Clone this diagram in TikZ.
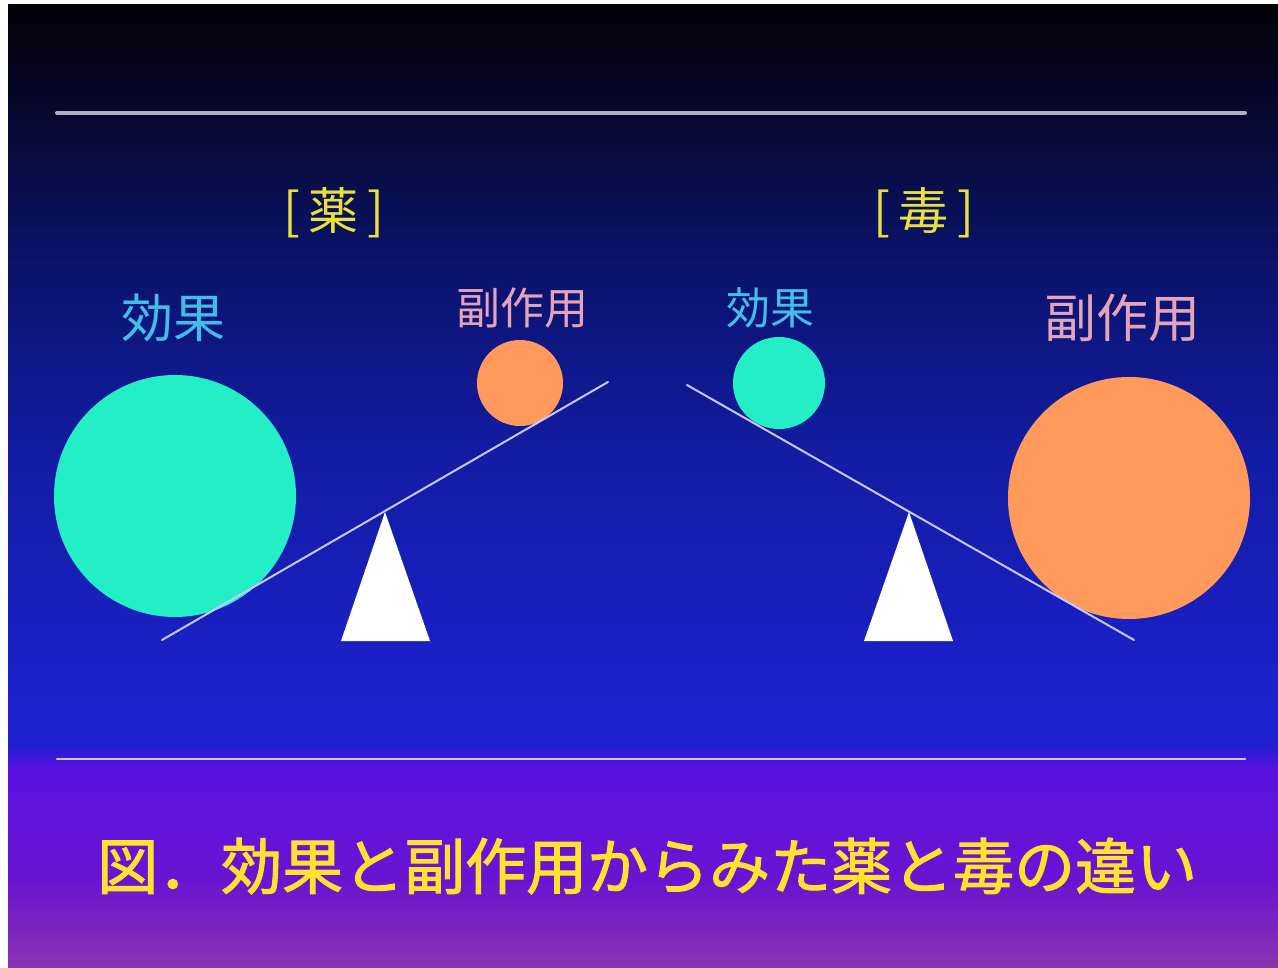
\documentclass[tikz,border=0pt]{standalone}
\usepackage{fontspec}
\newfontfamily\cjk{Noto Sans CJK JP}
\newfontfamily\cjkbold[FakeBold=1.6]{Noto Sans CJK JP}
\definecolor{g0}{HTML}{020207}
\definecolor{g1}{HTML}{04041A}
\definecolor{g2}{HTML}{07092E}
\definecolor{g3}{HTML}{0A1266}
\definecolor{g4}{HTML}{131CA2}
\definecolor{g5}{HTML}{1A20C4}
\definecolor{g6}{HTML}{2020D2}
\definecolor{g7}{HTML}{5A12E0}
\definecolor{g8}{HTML}{6A14D2}
\definecolor{g9}{HTML}{8A34B0}
\definecolor{cyanball}{HTML}{24EEC6}
\definecolor{orangeball}{HTML}{FF9A5C}
\definecolor{beamcol}{HTML}{C8C8FF}
\definecolor{effcol}{HTML}{40BEE8}
\definecolor{sidecol}{HTML}{E2A4B8}
\definecolor{titlecol}{HTML}{E6E040}
\definecolor{capcol}{HTML}{FFE22E}
\pgfdeclareverticalshading{bgshade}{100bp}{color(0bp)=(g9); color(25bp)=(g9); color(29.56bp)=(g8); color(35.28bp)=(g7); color(36.6bp)=(g6); color(41.5bp)=(g5); color(51.9bp)=(g4); color(62.28bp)=(g3); color(69.39bp)=(g2); color(72.14bp)=(g1); color(75bp)=(g0); color(100bp)=(g0)}
\tikzset{
  ball/.style={circle, inner sep=0pt, draw=none},
  beam/.style={draw=beamcol, line width=2pt, line cap=round},
  fulcrum/.style={fill=white},
  rulestyle/.style={line width=#1, line cap=round},
  lbl/.style={inner sep=0pt, font=\cjk\fontsize{52}{56}\selectfont},
  slbl/.style={inner sep=0pt, font=\cjk\fontsize{44}{48}\selectfont},
  ttl/.style={inner sep=0pt, text=titlecol, font=\cjk\fontsize{50}{54}\selectfont},
  captext/.style={inner sep=0pt, text=capcol, font=\cjkbold\fontsize{61}{64}\selectfont}
}
\begin{document}
\begin{tikzpicture}[x=1pt,y=-1pt]
\useasboundingbox (0,0) rectangle (1278,968);
\fill[white] (0,0) rectangle (1278,968);
\shade[shading=bgshade] (8,5) rectangle (1278,968);
% rules
\coordinate (t1) at (57,113); \coordinate (t2) at (1245,113);
\draw[rulestyle=4pt, color={rgb,255:red,176;green,176;blue,196}] (t1) -- (t2);
\coordinate (b1) at (57,759); \coordinate (b2) at (1245,759);
\draw[rulestyle=2.5pt, color={rgb,255:red,214;green,196;blue,255}] (b1) -- (b2);
% titles
\node[ttl] (kusuri) at (334,213) {[\,薬\,]};
\node[ttl] (doku) at (924,213) {[\,毒\,]};
% labels
\node[lbl, text=effcol] (eff1) at (173,318) {効果};
\node[slbl, text=sidecol] (side1) at (522,308) {副作用};
\node[slbl, text=effcol] (eff2) at (770,308) {効果};
\node[lbl, text=sidecol] (side2) at (1122,318) {副作用};
% left balance
\coordinate (la) at (385,512); \coordinate (lbl1) at (341,641); \coordinate (lbr) at (430,641);
\fill[fulcrum] (la) -- (lbl1) -- (lbr) -- cycle;
\node[ball, fill=cyanball, minimum size=242pt] (bigeff) at (175,496) {};
\node[ball, fill=orangeball, minimum size=86pt] (smallside) at (520,383) {};
\coordinate (lb1) at (162,640); \coordinate (lb2) at (608,382);
\draw[beam] (lb1) -- (lb2);
% right balance
\coordinate (ra) at (909,512); \coordinate (rbl) at (864,641); \coordinate (rbr) at (953,641);
\fill[fulcrum] (ra) -- (rbl) -- (rbr) -- cycle;
\node[ball, fill=cyanball, minimum size=92pt] (smalleff) at (779,383) {};
\node[ball, fill=orangeball, minimum size=242pt] (bigside) at (1129,498) {};
\coordinate (rb1) at (687,385); \coordinate (rb2) at (1134,640);
\draw[beam] (rb1) -- (rb2);
% caption
\node[captext, anchor=west] (caption) at (97,866) {図．\hspace{2pt}効果と副作用からみた薬と毒の違い};
\end{tikzpicture}
\end{document}
